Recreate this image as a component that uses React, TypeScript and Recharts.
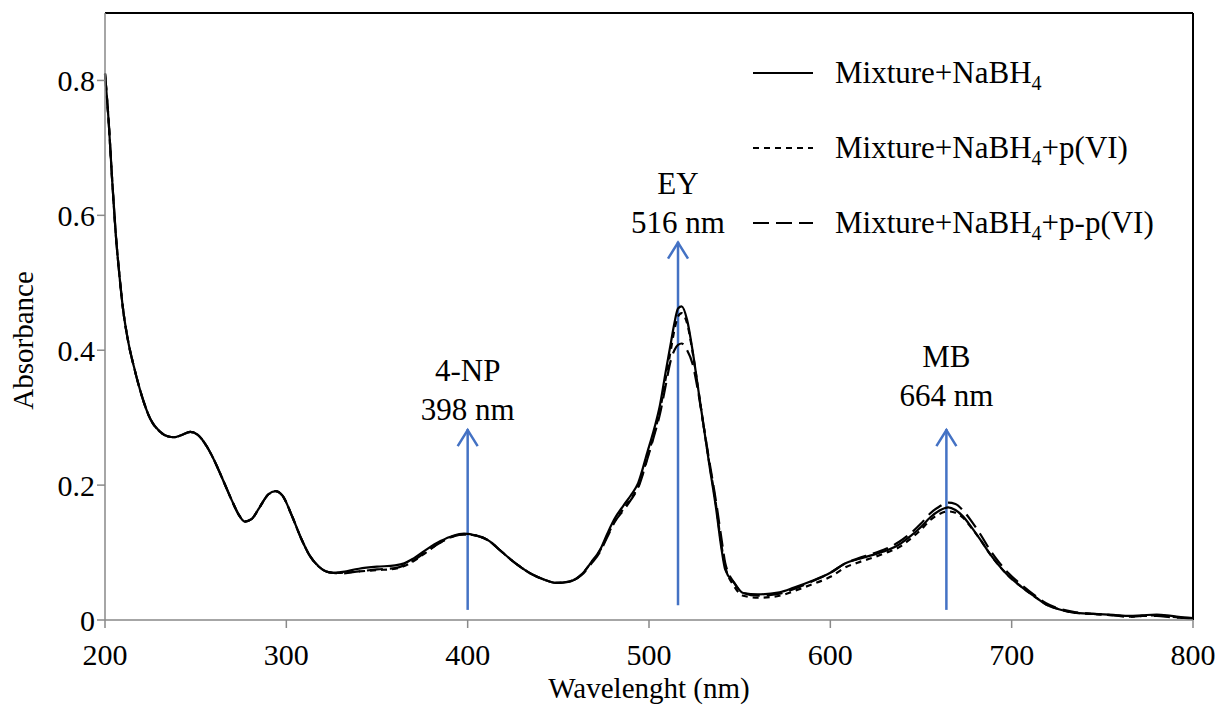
import { LineChart, Line, XAxis, YAxis, ReferenceLine, Label } from 'recharts'

// wavelength (nm) shared by all three spectra
const wavelength = [
  200, 202, 204, 206, 208, 210, 213, 216, 220, 225, 230, 235, 238, 242, 247, 251, 256, 260, 265, 270,
  274, 277, 281, 285, 290, 294, 298, 303, 308, 313, 318, 322, 326, 330, 340, 350, 360, 365, 370, 377,
  385, 392, 398, 405, 412, 418, 425, 430, 436, 442, 449, 456, 463, 468, 473, 477, 481, 486, 490, 494,
  499, 503, 506, 509, 512, 514, 516, 518, 521, 524, 527, 530, 533, 537, 540, 542, 547, 552, 560, 572,
  580, 589, 600, 609, 615, 624, 632, 638, 644, 650, 655, 660, 665, 669, 673, 678, 683, 688, 692, 698,
  705, 712, 719, 726, 734, 745, 756, 765, 772, 780, 788, 795, 800,
]

const mixNaBH4 = [
  0.81, 0.74, 0.65, 0.57, 0.51, 0.46, 0.41, 0.375, 0.335, 0.298, 0.28, 0.272, 0.271, 0.274, 0.279, 0.275, 0.258, 0.238, 0.208, 0.177,
  0.155, 0.146, 0.15, 0.166, 0.186, 0.191, 0.184, 0.155, 0.122, 0.095, 0.079, 0.072, 0.07, 0.071, 0.076, 0.079, 0.081, 0.084, 0.091, 0.104,
  0.117, 0.125, 0.128, 0.125, 0.117, 0.103, 0.087, 0.077, 0.067, 0.06, 0.055, 0.057, 0.068, 0.085, 0.104, 0.128, 0.15, 0.17, 0.185, 0.203,
  0.248, 0.285, 0.318, 0.365, 0.41, 0.44, 0.462, 0.465, 0.445, 0.4, 0.345, 0.29, 0.235, 0.165, 0.105, 0.075, 0.055, 0.04, 0.038, 0.041,
  0.048, 0.057, 0.07, 0.085, 0.09, 0.097, 0.104, 0.112, 0.124, 0.138, 0.152, 0.162, 0.167, 0.163, 0.154, 0.137, 0.118, 0.098, 0.084, 0.066,
  0.05, 0.036, 0.023, 0.016, 0.011, 0.009, 0.0075, 0.006, 0.007, 0.008, 0.006, 0.004, 0.003,
]

const mixPVI = [
  0.81, 0.74, 0.65, 0.57, 0.51, 0.46, 0.41, 0.375, 0.335, 0.298, 0.28, 0.272, 0.271, 0.274, 0.279, 0.275, 0.258, 0.238, 0.208, 0.177,
  0.155, 0.146, 0.15, 0.166, 0.186, 0.191, 0.184, 0.155, 0.122, 0.095, 0.079, 0.072, 0.07, 0.07, 0.072, 0.074, 0.076, 0.08, 0.087, 0.1,
  0.115, 0.124, 0.127, 0.125, 0.117, 0.103, 0.087, 0.077, 0.067, 0.06, 0.055, 0.057, 0.068, 0.085, 0.103, 0.125, 0.146, 0.165, 0.18, 0.198,
  0.24, 0.278, 0.31, 0.355, 0.4, 0.43, 0.45, 0.455, 0.44, 0.398, 0.345, 0.29, 0.237, 0.17, 0.11, 0.08, 0.05, 0.036, 0.033, 0.036,
  0.043, 0.052, 0.064, 0.079, 0.085, 0.093, 0.101, 0.108, 0.12, 0.134, 0.148, 0.157, 0.161, 0.159, 0.152, 0.136, 0.118, 0.098, 0.084, 0.066,
  0.05, 0.036, 0.023, 0.016, 0.011, 0.009, 0.007, 0.005, 0.006, 0.007, 0.005, 0.003, 0.002,
]

const mixPPVI = [
  0.81, 0.74, 0.65, 0.57, 0.51, 0.46, 0.41, 0.375, 0.335, 0.298, 0.28, 0.272, 0.271, 0.274, 0.279, 0.275, 0.258, 0.238, 0.208, 0.177,
  0.155, 0.146, 0.15, 0.166, 0.186, 0.191, 0.184, 0.155, 0.122, 0.095, 0.079, 0.072, 0.07, 0.069, 0.072, 0.075, 0.077, 0.081, 0.088, 0.101,
  0.115, 0.124, 0.127, 0.125, 0.117, 0.103, 0.087, 0.077, 0.067, 0.06, 0.055, 0.057, 0.067, 0.083, 0.101, 0.123, 0.145, 0.163, 0.178, 0.196,
  0.238, 0.275, 0.305, 0.345, 0.385, 0.4, 0.408, 0.41, 0.4, 0.38, 0.34, 0.29, 0.24, 0.175, 0.12, 0.085, 0.055, 0.04, 0.036, 0.039,
  0.046, 0.056, 0.07, 0.085, 0.091, 0.099, 0.107, 0.116, 0.128, 0.143, 0.158, 0.168, 0.174, 0.172, 0.163, 0.146, 0.126, 0.104, 0.089, 0.07,
  0.053, 0.038, 0.025, 0.017, 0.012, 0.009, 0.007, 0.005, 0.006, 0.006, 0.004, 0.003, 0.002,
]

const xTicks = [200, 300, 400, 500, 600, 700, 800]
const yTicks = [0, 0.2, 0.4, 0.6, 0.8]

// annotated peaks: arrow position, arrow span, label lines
const peakNames = ['4-NP', 'EY', 'MB']
const peakLabels = ['398 nm', '516 nm', '664 nm']
const arrowX = [400, 516, 664]
const arrowFrom = [0.015, 0.022, 0.015]
const arrowTo = [0.283, 0.561, 0.283]

const series = [
  { key: 'a', name: 'Mixture+NaBH4', dash: undefined },
  { key: 'b', name: 'Mixture+NaBH4+p(VI)', dash: '6 5' },
  { key: 'c', name: 'Mixture+NaBH4+p-p(VI)', dash: '16 7' },
]

const rows = wavelength.map((w, i) => ({ w, a: mixNaBH4[i], b: mixPVI[i], c: mixPPVI[i] }))

const FONT = '"Liberation Serif", "Times New Roman", serif'
const BLUE = '#4472C4'
const AXIS = '#898989'
// extra lift of the text above each arrow (px)
const LABEL_LIFT: Record<string, number> = { '4-NP': 0, EY: 0, MB: 14 }

const arrowShape = (top: string, bottom: string) => (props: any) => {
  const { x1, y1, y2 } = props
  const yt = Math.min(y1, y2)
  const yb = Math.max(y1, y2)
  const lift = LABEL_LIFT[top] ?? 0
  return (
    <g>
      <line x1={x1} y1={yb} x2={x1} y2={yt} stroke={BLUE} strokeWidth={2.5} />
      <polyline points={`${x1 - 10},${yt + 17} ${x1},${yt + 1} ${x1 + 10},${yt + 17}`} fill="none" stroke={BLUE} strokeWidth={2.5} />
      <text x={x1} y={yt - 48 - lift} textAnchor="middle" fontSize={31} fontFamily={FONT} fill="#000">{top}</text>
      <text x={x1} y={yt - 9 - lift} textAnchor="middle" fontSize={31} fontFamily={FONT} fill="#000">{bottom}</text>
    </g>
  )
}

const SeriesName = ({ name, x, y }: { name: string; x: number; y: number }) => {
  const [pre, post] = name.split('NaBH4')
  return (
    <text x={x} y={y} fontSize={31} fontFamily={FONT} fill="#000">
      {pre}NaBH
      <tspan fontSize={20} dy={7}>4</tspan>
      <tspan dy={-7}>{post}</tspan>
    </text>
  )
}

const LegendBox = () => (
  <svg width={440} height={220} style={{ position: 'absolute', left: 745, top: 40 }}>
    {series.map((s, i) => {
      const cy = 33 + i * 75
      return (
        <g key={s.key}>
          <line x1={8} x2={68} y1={cy} y2={cy} stroke="#000" strokeWidth={2.2} strokeDasharray={s.dash} />
          <SeriesName name={s.name} x={90} y={cy + 10} />
        </g>
      )
    })}
  </svg>
)

export default function App() {
  return (
    <div style={{ position: 'absolute', left: 0, top: 0, width: 1220, height: 713, background: '#fff', fontFamily: FONT }}>
      <LineChart width={1220} height={713} data={rows} margin={{ top: 13, right: 27, bottom: 13, left: 20 }}>
        <XAxis
          dataKey="w"
          type="number"
          domain={[200, 800]}
          ticks={xTicks}
          stroke={AXIS}
          strokeWidth={1.5}
          tickSize={8}
          height={80}
          tick={{ fill: '#000', fontSize: 30, fontFamily: FONT }}
          tickMargin={16}
        >
          <Label value="Wavelenght (nm)" position="insideBottom" offset={2} fill="#000" fontSize={29} fontFamily={FONT} />
        </XAxis>
        <YAxis
          type="number"
          domain={[0, 0.9]}
          ticks={yTicks}
          stroke={AXIS}
          strokeWidth={1.5}
          tickSize={8}
          width={85}
          tick={{ fill: '#000', fontSize: 30, fontFamily: FONT }}
          tickMargin={2}
        >
          <Label
            content={({ viewBox }: any) => {
              const cx = viewBox.x + 3
              const cy = viewBox.y + viewBox.height / 2 + 24
              return (
                <text x={cx} y={cy} transform={`rotate(-90, ${cx}, ${cy})`} textAnchor="middle" dominantBaseline="central" fontSize={29} fontFamily={FONT} fill="#000">
                  Absorbance
                </text>
              )
            }}
          />
        </YAxis>
        <ReferenceLine y={0.9} stroke="#000" strokeWidth={2} />
        <ReferenceLine x={800} stroke="#000" strokeWidth={2} />
        {arrowX.map((x, i) => (
          <ReferenceLine
            key={peakNames[i]}
            segment={[{ x, y: arrowFrom[i] }, { x, y: arrowTo[i] }]}
            shape={arrowShape(peakNames[i], peakLabels[i])}
          />
        ))}
        {series.map(s => (
          <Line
            key={s.key}
            type="monotone"
            dataKey={s.key}
            name={s.name}
            stroke="#000"
            strokeWidth={2.2}
            strokeDasharray={s.dash}
            dot={false}
            activeDot={false}
            isAnimationActive={false}
          />
        ))}
      </LineChart>
      <LegendBox />
    </div>
  )
}
